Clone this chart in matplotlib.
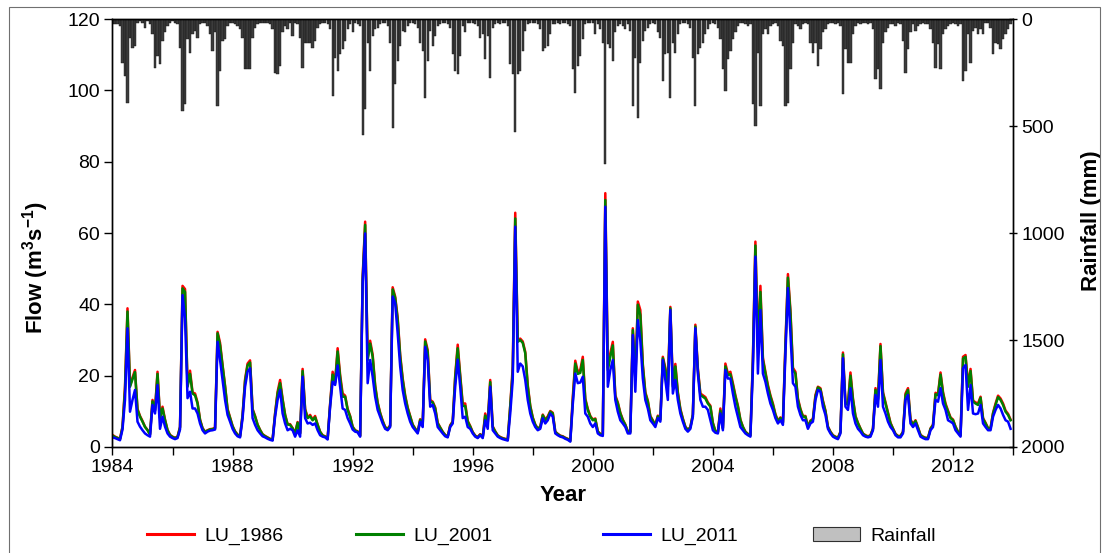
import matplotlib
matplotlib.use("Agg")
import matplotlib.pyplot as plt
from matplotlib.patches import Patch, Rectangle
from matplotlib.lines import Line2D

plt.rcParams['font.family'] = ['Liberation Sans', 'DejaVu Sans']
plt.rcParams['mathtext.fontset'] = 'custom'
plt.rcParams['mathtext.rm'] = 'Liberation Sans'
plt.rcParams['mathtext.bf'] = 'Liberation Sans:bold'

# monthly values, Jan 1984 - Dec 2013 (one row per year)
flow_1986 = [
    3.4, 2.9, 2.6, 2.3, 5.7, 17.0, 38.9, 17.2, 19.5, 21.6, 10.7, 8.7,
    7.3, 5.7, 4.8, 3.6, 13.2, 10.4, 21.1, 8.3, 11.3, 7.7, 4.8, 3.4,
    2.9, 2.6, 2.9, 5.7, 45.2, 44.3, 17.2, 21.4, 15.3, 15.0, 12.5, 7.7,
    5.3, 4.3, 4.7, 5.0, 5.1, 5.4, 32.3, 29.2, 23.0, 17.2, 10.7, 8.3,
    5.9, 4.4, 3.5, 3.1, 9.0, 19.0, 23.4, 24.3, 10.7, 8.7, 6.3, 4.8,
    3.6, 3.1, 2.7, 2.3, 2.1, 9.5, 15.5, 18.8, 13.5, 9.1, 6.4, 6.4,
    5.3, 3.9, 7.0, 3.9, 21.9, 10.7, 8.3, 9.0, 7.7, 8.7, 6.3, 4.3,
    3.3, 3.0, 2.4, 12.2, 21.1, 18.3, 27.7, 20.2, 15.0, 14.4, 10.7, 8.7,
    5.7, 4.7, 4.4, 3.2, 47.8, 63.2, 25.0, 29.8, 25.9, 17.4, 12.5, 9.6,
    7.4, 5.6, 5.1, 6.1, 44.8, 42.2, 36.3, 25.9, 19.3, 14.5, 11.1, 8.7,
    6.3, 5.2, 4.2, 7.8, 6.2, 30.2, 27.2, 13.2, 12.7, 11.1, 6.8, 5.5,
    4.3, 3.4, 3.0, 6.1, 7.2, 20.0, 28.7, 20.2, 12.2, 12.2, 7.3, 5.9,
    4.2, 3.2, 2.8, 3.6, 2.8, 9.4, 6.8, 18.8, 5.8, 4.4, 3.3, 2.8,
    2.5, 2.3, 2.1, 11.6, 22.6, 65.7, 30.0, 30.4, 29.6, 26.7, 17.4, 11.6,
    8.3, 6.3, 5.2, 5.7, 9.1, 7.7, 8.6, 10.1, 9.6, 4.3, 3.7, 3.2,
    3.0, 2.6, 2.3, 1.8, 14.0, 24.2, 21.1, 21.6, 25.3, 13.6, 10.7, 8.7,
    7.7, 8.0, 4.4, 3.7, 3.5, 71.2, 22.2, 26.3, 29.5, 14.5, 12.5, 9.6,
    7.7, 6.3, 4.4, 4.3, 33.3, 19.3, 40.8, 38.4, 23.2, 15.4, 13.0, 8.7,
    7.5, 6.2, 8.8, 7.8, 25.3, 22.2, 17.4, 39.3, 17.4, 23.3, 15.4, 10.7,
    8.0, 5.7, 4.8, 5.6, 9.2, 34.3, 22.0, 15.0, 14.5, 14.0, 12.5, 11.6,
    6.8, 4.5, 4.2, 10.8, 5.4, 23.4, 20.6, 21.1, 17.9, 14.5, 11.6, 7.7,
    5.7, 4.3, 3.7, 3.3, 25.0, 57.6, 28.9, 45.2, 25.0, 21.1, 17.4, 14.5,
    12.2, 9.2, 7.4, 8.3, 7.0, 29.0, 48.5, 38.4, 22.2, 21.1, 13.6, 10.7,
    8.7, 8.7, 5.7, 7.4, 7.9, 14.6, 16.9, 16.5, 13.0, 10.2, 5.7, 4.3,
    3.3, 2.9, 2.6, 4.3, 26.5, 12.5, 12.2, 20.9, 13.6, 8.7, 6.8, 5.2,
    3.8, 3.3, 3.0, 3.3, 5.2, 16.5, 13.6, 28.9, 15.4, 12.5, 9.6, 6.8,
    5.2, 3.7, 3.1, 3.1, 4.3, 15.0, 16.5, 7.7, 6.4, 7.5, 5.5, 3.4,
    2.9, 2.6, 2.6, 5.2, 6.3, 15.2, 14.9, 20.9, 15.4, 12.2, 10.2, 8.3,
    7.7, 5.7, 4.3, 3.3, 25.3, 25.8, 17.4, 21.9, 13.0, 12.5, 12.2, 14.1,
    8.1, 6.8, 5.3, 5.3, 9.6, 12.2, 14.4, 13.6, 12.2, 10.2, 9.3, 7.7,
]

flow_2001 = [
    3.2, 2.8, 2.5, 2.2, 5.5, 16.0, 38.0, 16.9, 19.0, 21.0, 10.4, 8.5,
    7.1, 5.6, 4.7, 3.5, 12.8, 10.2, 20.5, 8.1, 10.8, 7.5, 4.7, 3.3,
    2.8, 2.5, 2.8, 5.5, 44.5, 43.5, 16.9, 20.5, 15.0, 14.5, 12.2, 7.5,
    5.2, 4.2, 4.6, 4.9, 5.0, 5.2, 31.9, 28.5, 22.6, 16.9, 10.4, 8.1,
    5.8, 4.3, 3.4, 3.0, 8.8, 18.5, 22.9, 23.7, 10.4, 8.5, 6.2, 4.7,
    3.5, 3.0, 2.6, 2.2, 2.0, 9.2, 15.0, 17.9, 13.2, 8.9, 6.3, 6.2,
    5.2, 3.8, 6.8, 3.8, 21.3, 10.4, 8.1, 8.6, 7.5, 8.3, 6.2, 4.2,
    3.2, 2.9, 2.3, 11.8, 20.3, 18.0, 26.8, 19.5, 14.1, 14.1, 10.4, 8.5,
    5.6, 4.6, 4.3, 3.1, 47.0, 62.3, 24.4, 29.0, 25.3, 16.9, 12.2, 9.4,
    7.2, 5.5, 5.0, 5.9, 44.2, 41.8, 35.6, 25.3, 18.8, 14.1, 10.8, 8.5,
    6.2, 5.1, 4.1, 7.6, 6.0, 29.6, 26.6, 12.7, 12.5, 10.8, 6.6, 5.4,
    4.2, 3.3, 2.9, 5.9, 7.0, 19.5, 27.7, 19.7, 11.5, 11.5, 7.1, 5.7,
    4.1, 3.1, 2.7, 3.5, 2.7, 8.8, 6.6, 18.2, 5.6, 4.3, 3.2, 2.7,
    2.4, 2.2, 2.0, 11.3, 21.0, 64.1, 29.5, 30.0, 29.2, 26.3, 16.9, 11.3,
    8.1, 6.2, 5.1, 5.6, 8.9, 7.5, 8.3, 9.9, 9.4, 4.2, 3.6, 3.1,
    2.9, 2.5, 2.2, 1.7, 13.0, 23.4, 20.5, 20.8, 24.4, 13.2, 10.4, 8.5,
    7.5, 7.8, 4.3, 3.6, 3.4, 69.3, 21.6, 25.3, 28.5, 14.1, 12.2, 9.4,
    7.5, 6.2, 4.3, 4.2, 32.8, 18.8, 39.9, 37.0, 22.6, 15.0, 12.7, 8.5,
    7.3, 6.1, 8.6, 7.6, 24.9, 21.6, 16.9, 38.9, 16.9, 22.6, 15.0, 10.4,
    7.8, 5.6, 4.7, 5.5, 9.0, 33.8, 21.6, 14.6, 14.1, 13.6, 12.2, 11.3,
    6.6, 4.4, 4.1, 10.2, 5.2, 22.6, 20.2, 20.4, 17.4, 14.1, 11.3, 7.5,
    5.6, 4.2, 3.6, 3.2, 24.0, 56.5, 28.1, 43.5, 24.4, 20.6, 16.9, 14.1,
    11.8, 9.0, 7.2, 8.1, 6.8, 28.0, 47.5, 37.5, 21.6, 20.6, 13.2, 10.4,
    8.5, 8.5, 5.6, 7.2, 7.7, 14.1, 16.7, 16.2, 12.7, 10.0, 5.6, 4.2,
    3.2, 2.8, 2.5, 4.2, 26.0, 12.2, 11.8, 20.0, 13.2, 8.5, 6.6, 5.1,
    3.7, 3.2, 2.9, 3.2, 5.1, 16.0, 13.2, 28.3, 15.0, 12.2, 9.4, 6.6,
    5.1, 3.6, 3.0, 3.0, 4.2, 14.5, 16.0, 7.5, 6.2, 7.3, 5.4, 3.3,
    2.8, 2.5, 2.5, 5.1, 6.1, 14.8, 14.5, 20.3, 15.0, 11.8, 9.9, 8.1,
    7.5, 5.6, 4.2, 3.2, 24.8, 25.3, 16.9, 21.3, 12.7, 12.2, 11.8, 13.8,
    7.9, 6.6, 5.2, 5.2, 9.4, 11.8, 14.0, 13.2, 11.8, 9.9, 9.0, 7.5,
]

flow_2011 = [
    2.7, 2.5, 2.2, 1.9, 4.9, 13.2, 33.3, 9.9, 13.2, 16.0, 7.1, 5.7,
    4.7, 3.8, 3.3, 2.9, 11.8, 9.4, 17.4, 5.1, 8.5, 5.7, 3.8, 2.9,
    2.5, 2.2, 2.5, 4.9, 42.6, 36.0, 13.7, 15.5, 10.8, 10.8, 9.4, 6.6,
    4.7, 3.8, 4.3, 4.6, 4.7, 4.9, 29.5, 24.4, 18.8, 13.2, 9.0, 7.1,
    5.1, 3.8, 3.0, 2.7, 8.0, 16.9, 21.1, 22.1, 8.1, 6.2, 4.7, 3.8,
    3.0, 2.7, 2.3, 2.0, 1.8, 8.5, 13.2, 16.0, 9.4, 6.6, 4.7, 5.1,
    4.7, 2.9, 4.7, 2.9, 19.7, 8.1, 6.6, 6.8, 6.2, 6.6, 4.7, 3.3,
    2.9, 2.7, 2.1, 11.3, 18.3, 17.4, 22.9, 16.9, 10.8, 10.4, 8.1, 6.6,
    4.9, 4.3, 4.1, 2.9, 45.9, 59.9, 17.9, 24.4, 19.7, 14.1, 10.4, 8.5,
    6.6, 5.1, 4.7, 5.6, 42.2, 40.3, 31.9, 22.6, 16.0, 12.2, 9.4, 7.1,
    5.6, 4.7, 3.8, 7.1, 5.6, 28.1, 24.4, 11.3, 11.8, 9.4, 5.6, 4.7,
    3.8, 3.0, 2.7, 5.6, 6.6, 16.9, 24.5, 16.9, 8.1, 8.5, 5.6, 5.1,
    3.8, 2.9, 2.5, 3.3, 2.5, 7.5, 5.1, 16.9, 4.7, 3.8, 2.9, 2.5,
    2.2, 2.0, 1.8, 9.4, 18.8, 61.8, 21.1, 23.4, 22.6, 18.8, 13.2, 9.4,
    7.1, 5.6, 4.7, 5.1, 8.1, 6.6, 7.5, 9.4, 8.5, 3.8, 3.3, 2.9,
    2.7, 2.3, 2.0, 1.5, 12.0, 20.6, 17.9, 18.1, 19.7, 9.4, 8.5, 6.6,
    5.6, 6.6, 3.8, 3.3, 3.1, 67.4, 16.9, 21.6, 24.4, 13.2, 9.9, 7.5,
    6.6, 5.6, 3.8, 3.8, 31.4, 15.5, 35.6, 29.8, 19.2, 13.2, 10.8, 7.5,
    6.6, 5.6, 8.1, 7.1, 24.4, 18.8, 13.2, 38.4, 15.0, 18.8, 13.2, 9.4,
    7.1, 5.1, 4.3, 5.1, 8.5, 33.3, 20.6, 13.2, 11.3, 11.3, 10.4, 7.5,
    4.7, 4.0, 3.8, 9.4, 4.7, 21.6, 19.2, 19.2, 15.0, 11.3, 8.5, 5.6,
    4.7, 3.8, 3.3, 2.9, 22.0, 53.4, 20.6, 38.4, 20.6, 18.3, 15.0, 12.2,
    10.4, 8.1, 6.6, 7.5, 6.2, 26.0, 44.6, 31.9, 17.9, 16.9, 11.3, 9.0,
    7.5, 7.5, 5.1, 6.6, 7.1, 13.2, 16.0, 15.5, 11.3, 9.0, 5.1, 3.8,
    2.9, 2.5, 2.2, 3.8, 24.9, 11.3, 10.4, 16.5, 9.4, 6.6, 5.1, 4.3,
    3.3, 2.9, 2.7, 2.9, 4.7, 14.6, 11.3, 24.4, 11.3, 9.4, 7.1, 5.6,
    4.7, 3.3, 2.7, 2.7, 3.8, 13.2, 14.6, 6.6, 5.6, 6.6, 4.7, 2.9,
    2.5, 2.2, 2.2, 4.7, 5.6, 13.2, 12.7, 16.5, 12.2, 10.4, 7.5, 7.1,
    6.6, 4.7, 3.8, 2.9, 22.1, 23.0, 10.4, 17.4, 9.4, 9.2, 9.4, 11.8,
    6.6, 5.6, 4.7, 4.7, 8.5, 10.4, 11.8, 10.8, 9.0, 7.5, 7.1, 5.1,
]

rainfall = [
    23, 23, 23, 31, 203, 265, 390, 86, 133, 125, 16, 8,
    16, 39, 8, 23, 70, 226, 172, 211, 101, 62, 31, 16,
    8, 16, 23, 133, 429, 398, 94, 156, 70, 55, 86, 23,
    16, 16, 31, 70, 148, 62, 406, 242, 101, 94, 31, 16,
    16, 23, 31, 47, 86, 234, 234, 234, 86, 39, 23, 16,
    16, 16, 16, 23, 47, 250, 258, 219, 62, 31, 47, 16,
    78, 16, 23, 86, 226, 109, 109, 109, 133, 101, 39, 23,
    16, 16, 23, 47, 359, 180, 242, 164, 141, 101, 47, 23,
    62, 16, 23, 31, 543, 421, 109, 242, 78, 47, 39, 23,
    16, 16, 31, 109, 507, 304, 195, 125, 55, 62, 31, 16,
    16, 23, 39, 109, 148, 367, 195, 55, 125, 78, 31, 23,
    16, 16, 23, 39, 164, 242, 258, 172, 31, 62, 16, 16,
    16, 23, 31, 86, 70, 187, 78, 273, 39, 23, 16, 23,
    16, 16, 31, 211, 258, 528, 258, 242, 148, 55, 23, 16,
    16, 16, 23, 47, 148, 133, 125, 70, 23, 23, 16, 23,
    16, 16, 23, 31, 234, 343, 219, 172, 94, 23, 16, 16,
    16, 70, 23, 47, 109, 679, 117, 133, 195, 62, 31, 23,
    31, 47, 23, 55, 406, 180, 461, 203, 101, 55, 39, 23,
    16, 23, 62, 86, 289, 164, 156, 367, 109, 156, 70, 23,
    16, 16, 23, 39, 180, 406, 164, 133, 109, 70, 47, 23,
    16, 23, 39, 94, 234, 336, 187, 148, 94, 62, 31, 16,
    16, 23, 31, 23, 398, 500, 156, 406, 70, 47, 70, 31,
    23, 16, 31, 101, 125, 406, 390, 234, 109, 23, 31, 47,
    23, 16, 23, 109, 156, 109, 219, 141, 62, 47, 23, 16,
    16, 23, 16, 31, 351, 141, 203, 203, 70, 31, 16, 23,
    16, 16, 23, 16, 47, 281, 234, 328, 109, 62, 39, 23,
    23, 31, 16, 23, 101, 250, 141, 62, 23, 55, 31, 23,
    16, 23, 23, 47, 109, 226, 117, 234, 70, 47, 31, 23,
    16, 23, 31, 23, 289, 242, 70, 203, 55, 39, 70, 47,
    70, 16, 16, 39, 164, 109, 117, 141, 94, 70, 47, 23,
]

series_names = ['LU_1986', 'LU_2001', 'LU_2011']
series_colors = ['#ff0000', '#008000', '#0000ff']
year_ticks = [1984, 1988, 1992, 1996, 2000, 2004, 2008, 2012]

# decimal year for every month
time = [1984 + i / 12 for i in range(len(flow_2011))]

fig = plt.figure(figsize=(11.05, 5.53), dpi=100)
ax = fig.add_axes([0.1018, 0.1917, 0.8150, 0.7736])
ax2 = ax.twinx()

# rainfall hanging from the top on the inverted right axis
ax2.bar(time, rainfall, width=0.075, color='#3c3c3c', edgecolor='#111111',
        linewidth=0.3, align='center', zorder=1)
ax2.set_ylim(2000, 0)
ax2.set_yticks([0, 500, 1000, 1500, 2000])
ax2.set_ylabel('Rainfall (mm)', fontsize=16, fontweight='bold', rotation=90)
ax2.yaxis.set_label_coords(1.075, 0.53)

ax.set_zorder(ax2.get_zorder() + 1)
ax.patch.set_visible(False)
for vals, name, col in zip([flow_1986, flow_2001, flow_2011], series_names, series_colors):
    ax.plot(time, vals, color=col, lw=1.8, label=name, solid_joinstyle='round')

ax.set_xlim(1984, 2014)
ax.set_ylim(0, 120)
ax.set_xticks(year_ticks)
ax.set_xticks(range(1984, 2015, 2), minor=True)
ax.set_yticks(range(0, 121, 20))
ax.set_xlabel('Year', fontsize=16, fontweight='bold', labelpad=6)
ax.set_ylabel(r'Flow (m$^{\mathbf{3}}$s$^{\mathbf{-1}}$)', fontsize=16, fontweight='bold')
ax.yaxis.set_label_coords(-0.068, 0.42)

for a in (ax, ax2):
    for side in a.spines.values():
        side.set_linewidth(1.0)
    a.tick_params(labelsize=14, width=1.0, length=6, direction='out', pad=3)
ax.tick_params(axis='x', which='minor', length=6, width=1.0)
ax2.tick_params(axis='y', direction='inout', length=6)

# one legend entry per block so each sits where the reference puts it
handles = [Line2D([], [], color=c, lw=2.2) for c in series_colors]
handles.append(Patch(facecolor='#c0c0c0', edgecolor='#303030', linewidth=0.8))
labels = series_names + ['Rainfall']
entry_left = [147, 356, 603, 813]
for h, lab, xl in zip(handles, labels, entry_left):
    fig.legend([h], [lab], loc='center left', bbox_to_anchor=(xl / 1105, 1 - 536 / 553),
               frameon=False, fontsize=14, handlelength=2.4, handletextpad=0.55,
               borderpad=0, borderaxespad=0)

# thin frame around the whole picture
fig.add_artist(Rectangle((9 / 1105, -0.01), 1091 / 1105, 1.0 - 7 / 553 + 0.01,
                         transform=fig.transFigure, fill=False,
                         edgecolor='#707070', linewidth=0.8))

fig.savefig('out.png', dpi=100)
